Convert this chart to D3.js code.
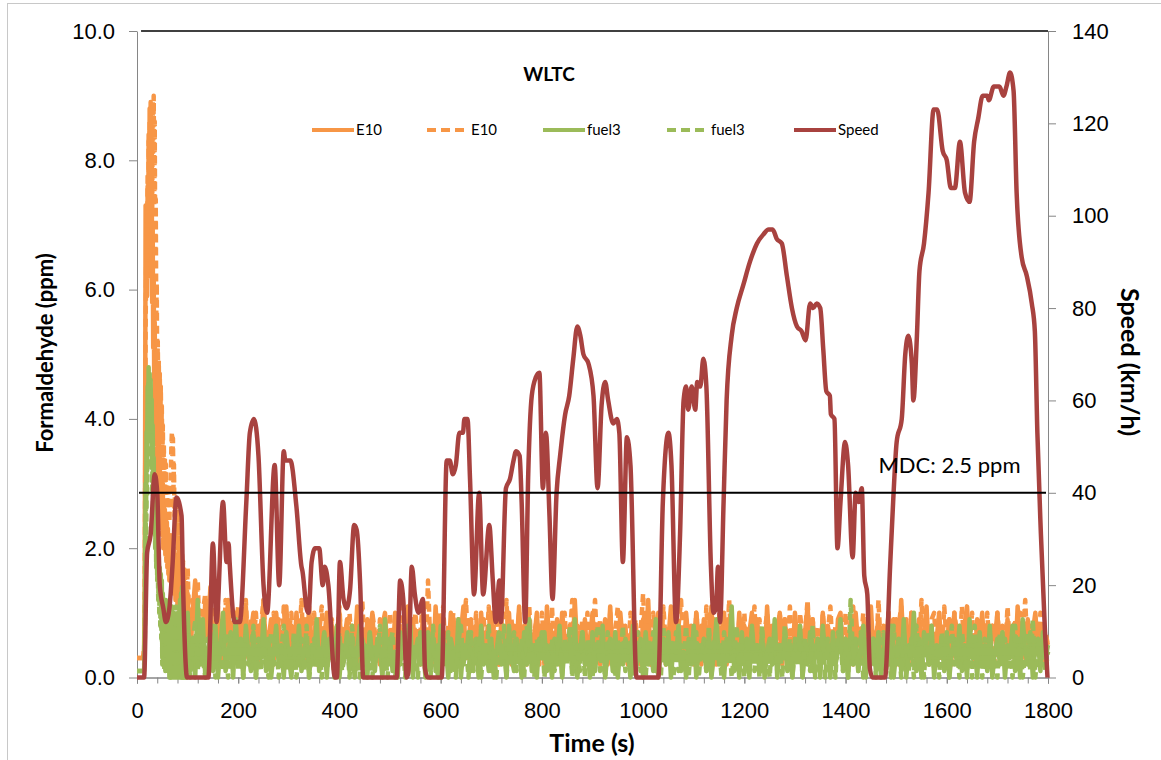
<!DOCTYPE html>
<html>
<head>
<meta charset="utf-8">
<script src="https://cdn.jsdelivr.net/npm/d3@7"></script>
<style>
  body { margin: 0; background: #fff; }
  svg { display: block; font-family: Lato, "Open Sans", sans-serif; }
</style>
</head>
<body>
<script>
// WLTC speed trace, [time s, speed km/h]
const speedProfile = [
  [0,0],[14,0],[20,27],[27,31],[35,44],[40,40],[45,20],[52,15],[57,12],[64,15],[70,24],[78,39],[88,35],[91,20],[99,0],
  [141,0],[150,29],[157,12],[170,38],[177,25],[181,29],[183,25],[193,12],[203,12],[216,38],[223,53],[231,56],[240,48],
  [250,20],[257,14],[272,46],[281,20],[290,49],[293,47],[303,47],[315,37],[325,24],[327,23],[335,15],[339,14],[345,25],
  [352,28],[360,28],[367,20],[371,24],[378,20],[391,0],[395,0],[401,25],[408,17],[414,15],[421,19],[429,33],[434,32],
  [441,20],[447,0],[513,0],[520,21],[526,17],[533,0],[536,1],[543,24],[549,18],[556,14],[565,17],[569,2],[574,0],
  [602,0],[612,47],[618,47],[624,44],[630,46],[637,53],[644,53],[647,56],[653,56],[658,43],[666,18],[676,40],[684,18],
  [696,33],[703,21],[709,12],[716,21],[719,12],[729,41],[737,43],[744,47],[749,49],[756,48],[760,38],[767,12],[773,44],
  [780,61],[788,65],[795,66],[802,41],[808,53],[815,35],[821,17],[829,40],[836,48],[846,57],[854,61],[862,69],[870,76],
  [876,74],[882,70],[892,68],[902,61],[910,41],[918,59],[925,64],[931,60],[941,55],[948,56],[953,53],[960,25],[968,52],
  [975,46],[987,0],[1030,0],[1039,38],[1050,53],[1056,46],[1065,12],[1073,31],[1080,60],[1085,63],[1089,58],[1096,63],
  [1103,58],[1107,64],[1113,63],[1119,69],[1125,63],[1134,24],[1139,14],[1144,15],[1148,24],[1152,12],[1159,38],[1165,60],
  [1175,74],[1185,80],[1198,85],[1211,90],[1225,94],[1238,96],[1248,97],[1256,97],[1264,95],[1274,94],[1284,87],[1294,80],
  [1304,76],[1313,75],[1321,73],[1330,81],[1336,80],[1343,81],[1350,80],[1356,71],[1362,62],[1369,61],[1371,57],[1378,56],
  [1384,28],[1390,38],[1399,51],[1405,46],[1414,26],[1420,40],[1426,38],[1432,41],[1437,22],[1443,18],[1448,2],[1453,0],
  [1478,0],[1488,24],[1494,38],[1501,51],[1511,56],[1518,70],[1524,74],[1531,68],[1534,60],[1541,74],[1546,88],[1555,94],
  [1564,105],[1574,123],[1581,123],[1592,114],[1600,112],[1608,106],[1616,106],[1626,116],[1636,105],[1645,103],[1654,116],
  [1662,121],[1671,126],[1680,126],[1683,125],[1693,128],[1704,128],[1712,126],[1718,128],[1725,131],[1732,127],[1738,105],
  [1748,91],[1758,87],[1768,81],[1774,75],[1779,53],[1786,31],[1794,10],[1799,0]
];

// formaldehyde (ppm): cold start read every 1 s (0-99 s), the rest every 5 s (100-1800 s)
const coldStartEnd = 100;
const mainStep = 5;

const e10SolidStart = [
  0.3,0.3,0.3,0.3,0.3,0.3,0.3,0.3,0.3,0.3,
  0.3,0.3,0.3,0.4,0.4,1.2,3.5,7.3,6.8,7.3,
  5.9,7.6,6.2,8.4,7.0,8.8,7.5,8.9,6.4,8.2,
  5.8,7.0,5.1,6.2,4.6,5.5,4.0,4.9,3.6,4.4,
  3.2,4.1,2.9,3.7,2.6,3.4,2.5,3.1,2.3,2.9,
  2.2,3.0,2.0,2.7,2.1,2.6,1.9,2.5,1.8,2.4,
  1.7,2.3,1.6,2.2,1.5,2.1,1.6,2.2,1.4,2.0,
  1.5,1.9,1.3,2.0,1.4,1.8,1.2,1.9,1.3,1.7,
  1.1,1.8,1.2,1.6,1.0,1.5,1.1,1.6,0.9,1.4,
  1.0,1.5,0.8,1.3,0.9,1.4,0.7,1.2,0.8,1.3
];
const e10Solid = [
  1.3,0.3,1.0,1.5,0.4,0.9,0.2,1.2,0.6,1.4,0.3,0.8,1.1,0.2,0.9,0.5,1.2,0.3,0.7,1.0,
  0.2,0.9,0.5,1.1,0.3,0.7,1.0,0.2,0.8,0.4,1.2,0.3,0.6,0.9,0.2,1.0,0.5,0.7,0.3,1.1,
  0.4,0.8,0.2,1.0,0.6,0.3,0.9,0.2,1.1,0.5,0.7,0.2,0.9,0.4,0.6,1.0,0.3,0.8,0.2,0.7,
  1.0,0.3,0.6,0.9,0.2,0.8,0.4,1.1,0.3,0.7,0.2,0.9,0.5,1.0,0.3,0.6,0.2,0.8,1.0,0.4,
  0.7,0.2,1.0,0.5,0.8,0.3,0.6,1.1,0.2,0.9,0.4,0.7,0.2,1.0,0.6,0.3,0.8,0.2,1.1,0.4,
  0.9,0.3,0.6,0.2,1.0,0.5,0.8,0.2,0.7,1.1,0.3,0.6,0.9,0.2,0.8,0.4,1.0,0.3,0.7,0.2,
  1.0,0.4,0.7,0.2,0.9,0.3,0.6,1.0,0.2,0.8,0.5,1.1,0.3,0.7,0.2,0.9,0.4,0.6,1.0,0.3,
  0.8,0.2,1.1,0.5,0.7,0.3,0.9,0.2,1.0,0.6,0.3,0.8,0.2,1.2,0.4,0.7,0.3,0.9,0.2,0.6,
  1.0,0.3,0.8,0.2,0.6,0.9,0.4,1.1,0.2,0.7,0.3,1.0,0.5,0.8,0.2,0.6,0.9,0.3,0.7,0.2,
  0.9,0.4,1.2,0.2,0.7,0.5,1.0,0.3,0.8,0.2,0.6,1.1,0.3,0.9,0.4,0.7,0.2,1.0,0.5,0.8,
  0.3,1.0,0.6,0.2,0.9,0.4,0.7,1.1,0.2,0.8,0.3,0.6,1.0,0.2,0.9,0.5,0.7,0.3,1.0,0.4,
  0.8,0.2,0.7,1.0,0.3,0.9,0.5,0.6,0.2,1.1,0.4,0.8,0.3,0.7,1.0,0.2,0.9,0.4,0.6,0.3,
  1.0,0.5,0.8,0.2,0.7,1.1,0.3,0.9,0.4,0.6,0.2,1.0,0.5,0.8,0.3,0.7,0.2,0.9,1.0,0.4,
  0.6,0.3,0.9,0.2,1.0,0.5,0.7,0.3,0.8,0.2,1.1,0.4,0.6,0.9,0.2,0.8,0.5,1.0,0.3,0.7,
  0.9,0.2,1.2,0.4,0.8,0.3,1.0,0.6,0.2,0.9,0.4,0.7,1.1,0.3,0.8,0.2,0.6,1.0,0.4,0.7,
  0.2,0.9,0.5,1.0,0.3,0.7,0.2,0.8,1.1,0.4,0.6,0.2,0.9,0.5,1.0,0.3,0.7,0.2,0.8,0.6,
  1.0,0.3,0.7,0.2,0.9,0.5,0.8,0.2,1.1,0.4,0.6,0.3,0.9,0.2,0.7,1.0,0.4,0.8,0.2,0.6,
  0.5
];

const e10DashStart = [
  0.3,0.3,0.3,0.3,0.3,0.3,0.3,0.3,0.3,0.3,
  0.3,0.3,0.3,0.3,0.4,0.8,2.6,5.4,6.2,7.1,
  6.5,7.8,7.0,8.3,7.4,8.6,7.9,8.8,7.6,8.5,
  7.2,8.9,8.1,9.0,7.3,8.6,6.5,7.4,5.6,6.1,
  4.6,5.2,4.4,4.9,4.1,4.7,3.9,4.5,3.7,4.2,
  3.3,3.9,3.1,3.6,2.9,3.4,2.8,3.3,2.7,3.0,
  2.6,2.9,2.5,3.0,2.4,2.8,2.6,3.2,3.6,3.8,
  3.4,3.7,2.9,3.3,2.5,2.8,2.3,2.7,2.2,2.6,
  2.0,2.5,1.9,2.3,1.7,2.1,1.8,2.0,1.6,1.9,
  1.5,1.8,1.4,1.7,1.3,1.6,1.2,1.5,1.1,1.4
];
const e10Dash = [
  1.7,0.4,1.2,0.8,1.5,0.3,1.0,1.3,0.5,1.1,0.3,1.4,0.7,0.9,0.2,1.2,0.6,1.0,0.3,0.8,
  1.1,0.4,0.7,1.2,0.3,0.9,0.5,1.0,0.2,0.8,1.2,0.4,0.7,0.3,1.0,0.6,0.9,0.2,1.1,0.5,
  0.7,1.0,0.3,0.8,0.5,1.2,0.2,0.9,0.6,0.4,1.0,0.3,0.7,1.1,0.2,0.8,0.5,0.9,0.3,0.6,
  1.1,0.2,0.8,0.5,1.0,0.3,0.7,0.9,0.2,1.2,0.4,0.6,0.3,1.0,0.7,0.2,0.9,0.5,0.8,0.3,
  1.0,0.4,0.7,0.2,1.1,0.6,0.9,0.3,0.8,0.2,1.0,0.5,0.7,1.2,0.3,1.5,0.4,0.8,0.2,1.0,
  0.5,1.1,0.3,0.8,0.6,1.0,0.2,0.9,0.4,0.7,1.2,0.3,0.8,0.5,1.0,0.2,0.7,0.9,0.4,1.1,
  0.3,0.8,1.0,0.2,0.7,0.5,1.2,0.3,0.9,0.4,0.6,1.0,0.2,0.8,0.5,1.1,0.3,0.7,0.9,0.2,
  1.0,0.5,0.8,0.3,1.1,0.2,0.7,0.9,0.4,1.0,0.3,0.6,1.2,0.2,0.8,0.5,0.9,0.3,1.0,0.4,
  0.7,1.2,0.3,0.9,0.5,0.8,0.2,1.0,0.4,0.7,1.1,0.3,0.8,0.6,0.2,1.0,0.5,0.9,0.3,0.7,
  1.3,0.4,0.8,0.2,1.0,0.6,0.9,0.3,1.1,0.5,0.7,0.2,1.0,0.4,0.8,1.2,0.3,0.9,0.5,0.7,
  0.2,1.0,0.6,0.8,0.3,1.1,0.4,0.7,0.9,0.2,1.0,0.5,0.8,0.3,1.2,0.4,0.7,0.2,0.9,0.6,
  1.0,0.3,0.8,0.5,1.1,0.2,0.9,0.4,0.7,1.0,0.3,0.8,0.6,0.2,1.0,0.5,0.9,0.3,1.1,0.4,
  0.8,0.2,1.0,0.6,0.7,1.2,0.3,0.9,0.5,0.8,0.2,1.0,0.4,0.7,1.1,0.3,0.8,0.5,0.9,0.2,
  1.0,0.4,0.7,1.1,0.3,0.8,0.5,1.0,0.2,0.9,0.6,0.7,0.3,1.2,0.4,0.8,0.2,1.0,0.5,0.9,
  0.3,0.8,1.1,0.4,0.9,0.2,1.0,0.6,0.8,0.3,1.2,0.5,0.7,0.2,0.9,1.0,0.4,0.8,0.3,1.1,
  0.5,0.9,0.2,1.0,0.7,0.4,1.1,0.3,0.8,0.5,1.0,0.2,0.9,0.6,0.7,0.3,1.0,0.4,0.8,0.2,
  1.0,0.5,0.8,0.3,1.1,0.4,0.7,0.9,0.2,1.0,0.6,1.2,0.3,0.8,0.5,0.9,0.2,1.0,0.4,0.7,
  0.5
];

const fuel3SolidStart = [
  0.1,0.1,0.1,0.1,0.1,0.1,0.1,0.1,0.1,0.1,
  0.1,0.1,0.1,0.1,0.1,0.4,1.5,3.0,2.6,3.8,
  3.2,4.5,3.9,4.8,4.2,4.7,4.0,4.6,3.7,4.3,
  3.3,3.9,2.9,3.4,2.5,3.0,2.2,2.7,1.9,2.4,
  1.7,2.1,1.5,1.9,1.3,1.7,1.2,1.6,0.9,1.5,
  0.3,1.3,0.2,1.2,0.4,1.1,0.1,1.2,0.3,1.0,
  0.1,1.1,0.2,0.9,0.0,1.0,0.2,0.8,0.1,1.1,
  0.0,0.9,0.2,1.0,0.1,0.8,0.0,0.9,0.2,0.7,
  0.0,1.0,0.1,0.8,0.0,1.2,0.2,0.9,0.0,1.4,
  0.1,0.8,0.0,0.9,0.2,0.7,0.0,0.8,0.1,0.9
];
const fuel3Solid = [
  1.0,0.1,0.6,0.0,1.2,0.2,0.9,0.0,0.4,0.7,0.1,0.8,0.0,0.5,1.0,0.1,0.3,0.7,0.0,0.9,
  0.2,0.6,0.0,0.8,0.4,0.1,0.7,0.0,0.5,0.3,0.9,0.1,0.6,0.0,0.4,0.8,0.2,0.5,0.0,0.7,
  0.3,0.0,0.6,0.2,0.8,0.1,0.4,0.6,0.0,0.5,0.2,0.9,0.1,0.3,0.7,0.0,0.6,0.4,0.1,0.8,
  0.0,0.5,0.3,0.7,0.1,0.6,0.0,0.4,0.8,0.2,0.5,0.0,0.7,0.3,0.1,0.6,0.4,0.0,0.9,0.2,
  0.6,0.1,0.4,0.0,0.7,0.3,0.5,0.1,0.8,0.0,0.4,0.6,0.2,0.5,0.0,0.7,0.1,0.6,0.3,0.0,
  0.8,0.2,0.5,0.0,0.6,0.4,0.1,0.9,0.0,0.5,0.3,0.7,0.1,0.4,0.6,0.0,0.8,0.2,0.5,0.1,
  0.6,0.0,0.4,0.7,0.2,0.5,0.0,0.8,0.3,0.1,0.6,0.4,0.0,0.7,0.2,0.9,0.1,0.5,0.0,0.6,
  0.3,0.7,0.1,0.4,0.0,0.6,0.2,0.8,0.0,0.5,0.3,0.6,0.1,0.9,0.0,0.4,0.7,0.2,0.5,0.0,
  0.7,0.1,0.5,0.3,0.8,0.0,0.4,0.6,0.1,0.7,0.0,0.5,0.2,0.6,0.4,0.0,0.8,0.1,0.3,0.6,
  0.0,0.7,0.2,0.5,0.1,0.9,0.0,0.4,0.6,0.2,0.7,0.0,0.5,0.3,0.8,0.1,0.4,0.0,0.6,0.2,
  0.8,0.0,0.5,0.3,0.6,0.1,0.7,0.0,0.4,0.9,0.2,0.5,0.0,0.6,0.3,1.1,0.1,0.5,0.0,0.7,
  0.2,0.6,0.0,0.8,0.3,0.5,0.1,0.7,0.0,0.4,0.6,0.2,0.9,0.0,0.5,0.3,0.7,0.1,0.4,0.0,
  0.6,0.3,0.8,0.0,0.5,0.2,0.7,0.1,0.4,0.6,0.0,0.8,0.3,0.5,0.0,0.7,0.2,0.4,0.9,0.1,
  0.5,0.0,0.7,0.2,0.6,0.1,0.4,0.8,0.0,0.5,0.3,0.6,0.1,0.7,0.0,0.4,0.6,0.2,0.8,0.0,
  0.4,0.6,0.1,0.9,0.0,0.5,0.3,1.0,0.1,0.6,0.0,0.7,0.4,0.2,0.8,0.0,0.5,0.3,0.6,0.1,
  0.7,0.0,0.4,0.6,0.2,0.8,0.1,0.5,0.0,0.9,0.3,0.6,0.0,0.7,0.2,0.5,0.1,0.8,0.0,0.4,
  0.6,0.2,0.7,0.0,0.5,0.3,0.8,0.1,0.6,0.0,0.9,0.4,0.2,0.7,0.0,0.5,0.6,0.1,0.7,0.3,
  0.5
];

const fuel3DashStart = [
  0.1,0.1,0.1,0.1,0.1,0.1,0.1,0.1,0.1,0.1,
  0.1,0.1,0.1,0.1,0.2,0.3,1.0,2.4,2.0,3.1,
  2.8,4.0,3.5,4.6,3.9,4.4,3.6,4.2,3.3,3.9,
  2.9,3.5,2.6,3.1,2.3,2.7,2.0,2.4,1.7,2.2,
  1.5,1.9,1.2,1.7,1.0,1.5,0.8,1.4,0.6,1.2,
  0.2,1.1,0.5,1.0,0.1,1.2,0.3,0.9,0.2,1.0,
  0.4,0.8,0.1,1.0,0.3,0.9,0.0,1.1,0.2,0.8,
  0.1,1.0,0.3,0.7,0.0,0.9,0.2,1.1,0.1,0.8,
  0.3,0.9,0.0,1.0,0.2,0.8,0.1,1.3,0.0,0.9,
  0.2,0.7,0.1,0.9,0.0,0.8,0.3,0.7,0.0,0.8
];
const fuel3Dash = [
  0.8,0.0,0.5,0.9,0.1,0.7,0.3,0.0,0.6,0.2,0.8,0.0,0.5,0.4,0.1,0.7,0.0,0.6,0.3,0.8,
  0.1,0.5,0.0,0.7,0.2,0.4,0.8,0.0,0.6,0.1,0.5,0.3,0.0,0.7,0.2,0.6,0.0,0.4,0.8,0.1,
  0.5,0.2,0.7,0.0,0.4,0.6,0.1,0.8,0.0,0.3,0.6,0.2,0.5,0.0,0.7,0.1,0.4,0.6,0.0,0.5,
  0.7,0.1,0.3,0.6,0.0,0.8,0.2,0.5,0.0,0.6,0.4,0.1,0.7,0.0,0.5,0.3,0.8,0.1,0.4,0.0,
  0.5,0.7,0.0,0.4,0.2,0.6,0.0,0.8,0.3,0.1,0.5,0.0,0.7,0.4,0.2,0.6,0.0,0.8,0.1,0.5,
  0.0,0.6,0.3,0.7,0.1,0.4,0.0,0.6,0.8,0.2,0.5,0.0,0.7,0.1,0.4,0.6,0.0,0.5,0.3,0.8,
  0.1,0.4,0.0,0.6,0.3,0.8,0.0,0.5,0.2,0.7,0.1,0.4,0.6,0.0,0.8,0.2,0.5,0.0,0.6,0.3,
  0.7,0.0,0.5,0.2,0.6,0.1,0.4,0.7,0.0,0.6,0.2,0.8,0.0,0.4,0.5,0.1,0.7,0.0,0.6,0.3,
  0.0,0.5,0.8,0.1,0.4,0.0,0.7,0.3,0.5,0.0,0.6,0.2,0.8,0.1,0.4,0.6,0.0,0.5,0.7,0.1,
  0.4,0.0,0.6,0.3,0.7,0.1,0.5,0.0,0.8,0.2,0.4,0.6,0.0,0.7,0.1,0.5,0.3,0.8,0.0,0.6,
  0.2,0.7,0.0,0.5,0.4,0.1,0.8,0.0,0.6,0.3,0.5,0.0,0.7,0.2,0.6,0.0,0.4,0.8,0.1,0.5,
  0.0,0.6,0.3,0.7,0.1,0.5,0.0,0.8,0.2,0.4,0.0,0.6,0.7,0.1,0.5,0.0,0.8,0.3,0.6,0.0,
  0.5,0.2,0.7,0.0,0.6,0.4,0.1,0.8,0.0,0.5,0.3,0.7,0.0,0.6,0.2,0.4,0.0,0.7,0.5,0.1,
  0.6,0.0,1.2,0.3,0.5,0.1,0.7,0.0,0.4,0.8,0.2,0.6,0.0,0.5,0.3,0.7,0.1,0.4,0.0,0.8,
  0.2,0.5,0.0,0.7,0.4,0.1,0.6,0.0,0.8,0.3,0.5,0.0,0.7,0.2,0.6,0.1,0.4,0.0,0.7,0.3,
  0.6,0.0,0.8,0.2,0.5,0.0,0.7,0.4,0.1,0.6,0.0,0.8,0.3,0.5,0.0,0.6,0.2,0.7,0.1,0.4,
  0.0,0.7,0.3,0.6,0.1,0.5,0.0,0.8,0.2,0.6,0.0,0.4,0.7,0.1,0.9,0.0,0.5,0.3,0.6,0.1,
  0.4
];

const xTicks = [0, 200, 400, 600, 800, 1000, 1200, 1400, 1600, 1800];
const yTicks = [0, 2, 4, 6, 8, 10];
const y2Ticks = [0, 20, 40, 60, 80, 100, 120, 140];
const mdcSpeedLevel = 40;   // the MDC line sits on the 40 km/h level
const mdcLabel = "MDC: 2.5 ppm";

// chart layout
const margin = { top: 31, right: 113, bottom: 82.5, left: 137 };
const width = 1161 - margin.left - margin.right;
const height = 760 - margin.top - margin.bottom;

const svg = d3.select("body")
  .append("svg")
  .attr("width", 1161)
  .attr("height", 760);

// outer chart frame (only its left/top edges fall in view)
svg.append("rect")
  .attr("x", 7.5).attr("y", 3.5)
  .attr("width", 1200).attr("height", 800)
  .attr("fill", "none")
  .attr("stroke", "#c8c8c8");

const g = svg.append("g")
  .attr("transform", `translate(${margin.left},${margin.top})`);

const x = d3.scaleLinear().domain([0, 1800]).range([0, width]);
const y = d3.scaleLinear().domain([0, 10]).range([height, 0]);
const y2 = d3.scaleLinear().domain([0, 140]).range([height, 0]);

const axisColor = "#868686";
function styleAxis(sel) {
  sel.select(".domain").attr("stroke", axisColor);
  sel.selectAll(".tick line").attr("stroke", axisColor);
  sel.selectAll(".tick text").attr("fill", "#000").style("font-size", "22px");
}

// X axis: labelled every 200 s, small ticks every 40 s
g.append("g")
  .attr("transform", `translate(0,${height})`)
  .call(d3.axisBottom(x).tickValues(d3.range(0, 1801, 40)).tickSize(6).tickFormat(""))
  .call(styleAxis);

g.append("g")
  .attr("transform", `translate(0,${height})`)
  .call(d3.axisBottom(x).tickValues(xTicks).tickSize(6).tickSizeOuter(0).tickPadding(19).tickFormat(d3.format("d")))
  .call(styleAxis);

// left axis
g.append("g")
  .call(d3.axisLeft(y).tickValues(yTicks).tickSize(8).tickSizeOuter(0).tickPadding(14).tickFormat(d3.format(".1f")))
  .call(styleAxis);

// right axis
g.append("g")
  .attr("transform", `translate(${width},0)`)
  .call(d3.axisRight(y2).tickValues(y2Ticks).tickSize(8).tickSizeOuter(0).tickPadding(16))
  .call(styleAxis);

// top border of plot area
g.append("line")
  .attr("x1", x(8)).attr("x2", width)
  .attr("y1", y(10)).attr("y2", y(10))
  .attr("stroke", "#000").attr("stroke-width", 1.5);

// formaldehyde series: join the 1 s cold start with the 5 s remainder
function toPoints(start, rest) {
  return start.map((v, i) => [i, v])
    .concat(rest.map((v, i) => [coldStartEnd + i * mainStep, v]));
}

const hchoLine = d3.line()
  .x(d => x(d[0]))
  .y(d => y(d[1]));

const series = [
  { name: "E10", values: toPoints(e10SolidStart, e10Solid), color: "#F79646", dash: null },
  { name: "E10", values: toPoints(e10DashStart, e10Dash), color: "#F79646", dash: "8,5" },
  { name: "fuel3", values: toPoints(fuel3SolidStart, fuel3Solid), color: "#9BBB59", dash: null },
  { name: "fuel3", values: toPoints(fuel3DashStart, fuel3Dash), color: "#9BBB59", dash: "8,5" }
];

series.forEach(s => {
  g.append("path")
    .datum(s.values)
    .attr("fill", "none")
    .attr("stroke", s.color)
    .attr("stroke-width", 4.5)
    .attr("stroke-linejoin", "round")
    .attr("stroke-dasharray", s.dash)
    .attr("d", hchoLine);
});

// speed trace on the secondary axis
const speedLine = d3.line()
  .curve(d3.curveMonotoneX)
  .x(d => x(d[0]))
  .y(d => y2(d[1]));

g.append("path")
  .datum(speedProfile)
  .attr("fill", "none")
  .attr("stroke", "#A8423F")
  .attr("stroke-width", 4.5)
  .attr("stroke-linejoin", "round")
  .attr("d", speedLine);

// MDC line and label
g.append("line")
  .attr("x1", x(4)).attr("x2", width - 2)
  .attr("y1", y2(mdcSpeedLevel)).attr("y2", y2(mdcSpeedLevel))
  .attr("stroke", "#000").attr("stroke-width", 2);

g.append("text")
  .attr("x", x(1465))
  .attr("y", y2(mdcSpeedLevel) - 20)
  .style("font-size", "22px")
  .text(mdcLabel);

// titles
svg.append("text")
  .attr("x", 549).attr("y", 81)
  .attr("text-anchor", "middle")
  .style("font-size", "19px").style("font-weight", "bold")
  .text("WLTC");

svg.append("text")
  .attr("transform", "translate(53,353) rotate(-90)")
  .attr("text-anchor", "middle")
  .style("font-size", "22px").style("font-weight", "bold")
  .text("Formaldehyde (ppm)");

svg.append("text")
  .attr("transform", "translate(1121,362) rotate(90)")
  .attr("text-anchor", "middle")
  .style("font-size", "25px").style("font-weight", "bold")
  .text("Speed (km/h)");

svg.append("text")
  .attr("x", 592).attr("y", 752)
  .attr("text-anchor", "middle")
  .style("font-size", "25px").style("font-weight", "bold")
  .text("Time (s)");

// legend
const legendItems = [
  { label: "E10", color: "#F79646", dash: null, x: 312 },
  { label: "E10", color: "#F79646", dash: "9,5", x: 427 },
  { label: "fuel3", color: "#9BBB59", dash: null, x: 543 },
  { label: "fuel3", color: "#9BBB59", dash: "9,5", x: 667 },
  { label: "Speed", color: "#A8423F", dash: null, x: 794 }
];

const legend = svg.append("g").attr("transform", "translate(0,130)");
legendItems.forEach(d => {
  legend.append("line")
    .attr("x1", d.x).attr("x2", d.x + 42)
    .attr("stroke", d.color)
    .attr("stroke-width", 4)
    .attr("stroke-dasharray", d.dash);
  legend.append("text")
    .attr("x", d.x + 44)
    .attr("dy", "0.35em")
    .style("font-size", "15px")
    .text(d.label);
});
</script>
</body>
</html>
